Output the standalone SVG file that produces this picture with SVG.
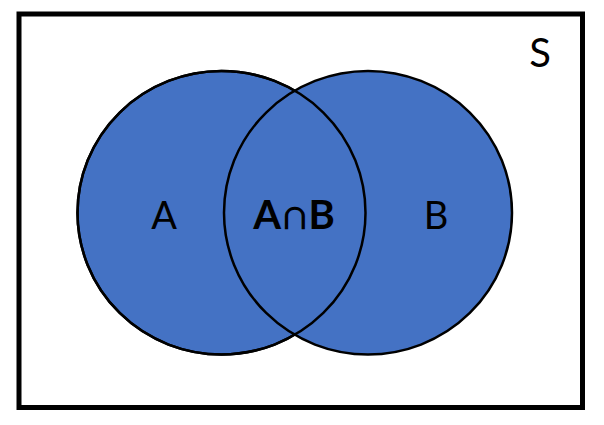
<svg xmlns="http://www.w3.org/2000/svg" width="604" height="425" viewBox="0 0 604 425">
<style>
.set{fill:#4472C4;stroke:#000;stroke-width:2.5}
.lbl{font-family:Lato,"Open Sans","Liberation Sans",sans-serif;fill:#000;text-anchor:middle}
</style>
<rect width="604" height="425" fill="#fff"/>
<g id="universe">
<rect x="19" y="14" width="563.5" height="393.5" fill="#fff" stroke="#000" stroke-width="5"/>
<text class="lbl" x="540" y="67" font-size="40">S</text>
</g>
<g id="setA"><ellipse class="set" cx="221.5" cy="212.75" rx="144" ry="141.75"/></g>
<g id="setB"><ellipse class="set" cx="368" cy="212.75" rx="144" ry="141.75"/></g>
<g id="outlineA"><ellipse cx="221.5" cy="212.75" rx="144" ry="141.75" fill="none" stroke="#000" stroke-width="2.5"/></g>
<g id="labels">
<text class="lbl" x="164" y="229" font-size="38">A</text>
<text class="lbl" x="436" y="229" font-size="38">B</text>
<text class="lbl" x="295" y="229" font-size="40" font-weight="bold" letter-spacing="2">A∩B</text>
</g>
</svg>
